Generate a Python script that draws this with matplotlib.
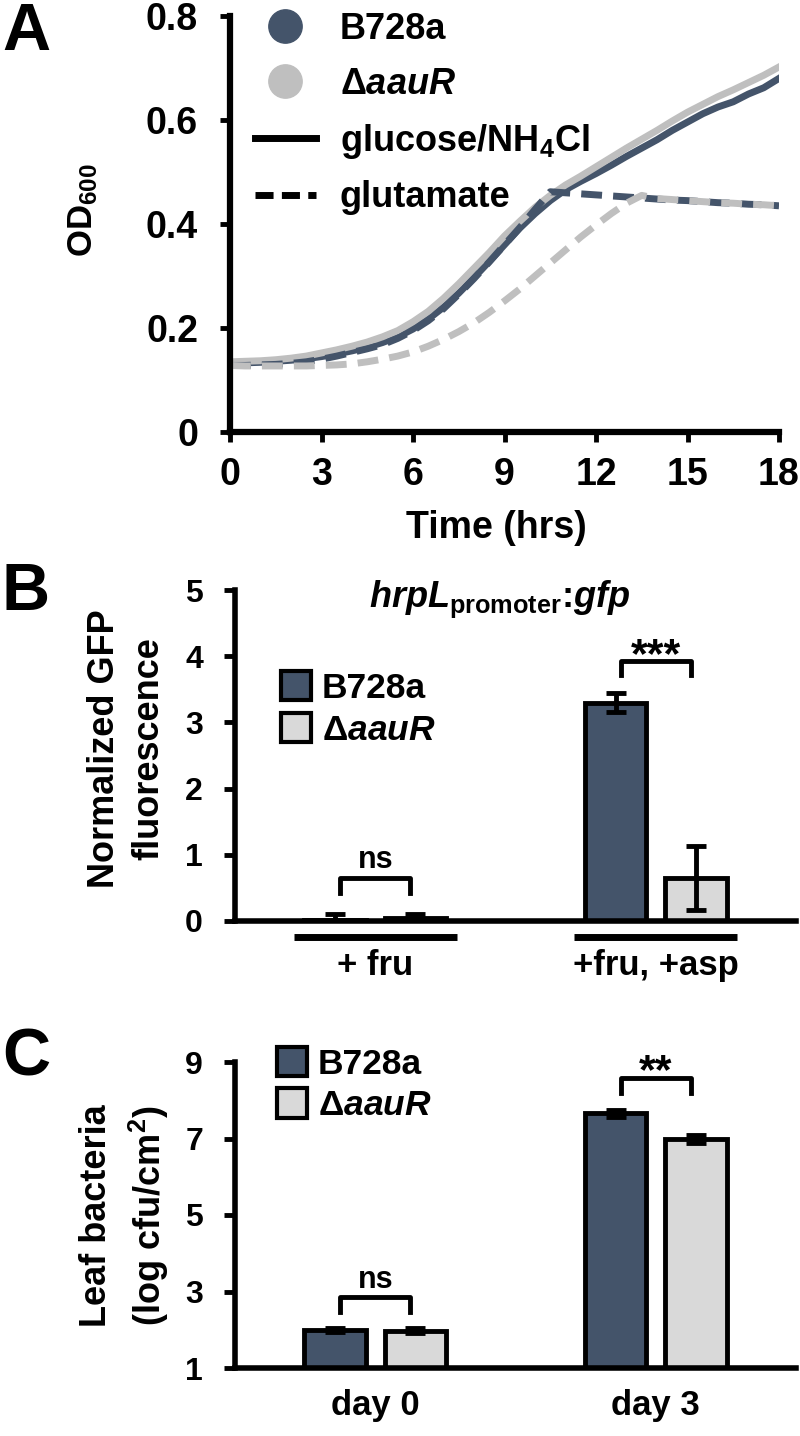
import matplotlib
matplotlib.use("Agg")
import matplotlib.pyplot as plt
import matplotlib.transforms as mtransforms
from matplotlib.lines import Line2D
from matplotlib.patches import Patch

plt.rcParams['font.family'] = ['Liberation Sans', 'DejaVu Sans']
plt.rcParams['font.weight'] = 'bold'
plt.rcParams['mathtext.fontset'] = 'custom'
plt.rcParams['mathtext.rm'] = 'Liberation Sans:bold'
plt.rcParams['mathtext.it'] = 'Liberation Sans:italic:bold'
plt.rcParams['mathtext.bf'] = 'Liberation Sans:bold'

DARK = '#44546A'
GRAY_LINE = '#BFBFBF'
GRAY_BAR = '#D9D9D9'

# ---- Panel A: growth curves (OD600), read every 30 min ----
time_hrs = [0, 0.5, 1, 1.5, 2, 2.5, 3, 3.5, 4, 4.5, 5, 5.5, 6, 6.5, 7, 7.5, 8, 8.5,
            9, 9.5, 10, 10.5, 11, 11.5, 12, 12.5, 13, 13.5, 14, 14.5, 15, 15.5,
            16, 16.5, 17, 17.5, 18]
od_glc_wt = [0.133, 0.133, 0.134, 0.136, 0.138, 0.141, 0.145, 0.150, 0.156, 0.163,
             0.172, 0.183, 0.198, 0.217, 0.240, 0.267, 0.297, 0.328, 0.360, 0.392,
             0.420, 0.445, 0.466, 0.482, 0.497, 0.513, 0.530, 0.546, 0.562, 0.580,
             0.596, 0.612, 0.625, 0.635, 0.650, 0.662, 0.680]
od_glc_mut = [0.135, 0.136, 0.137, 0.139, 0.142, 0.146, 0.152, 0.158, 0.165, 0.173,
              0.183, 0.195, 0.212, 0.232, 0.257, 0.285, 0.315, 0.345, 0.377, 0.405,
              0.432, 0.455, 0.475, 0.492, 0.510, 0.528, 0.546, 0.563, 0.580, 0.598,
              0.615, 0.630, 0.645, 0.658, 0.672, 0.686, 0.702]
od_glu_wt = [0.128, 0.128, 0.129, 0.130, 0.132, 0.135, 0.140, 0.146, 0.153, 0.160,
             0.168, 0.180, 0.195, 0.214, 0.237, 0.265, 0.295, 0.327, 0.360, 0.393,
             0.428, 0.462, 0.460, 0.458, 0.456, 0.454, 0.452, 0.450, 0.448, 0.446,
             0.445, 0.443, 0.441, 0.440, 0.438, 0.437, 0.435]
od_glu_mut = [0.128, 0.127, 0.127, 0.127, 0.127, 0.127, 0.128, 0.129, 0.131, 0.135,
              0.140, 0.146, 0.154, 0.165, 0.178, 0.193, 0.210, 0.230, 0.252, 0.275,
              0.300, 0.325, 0.350, 0.375, 0.398, 0.420, 0.440, 0.455, 0.449, 0.447,
              0.445, 0.443, 0.441, 0.440, 0.438, 0.437, 0.435]
a_xticks = [0, 3, 6, 9, 12, 15, 18]
a_yticks = [0, 0.2, 0.4, 0.6, 0.8]
a_yticklabels = ['0', '0.2', '0.4', '0.6', '0.8']

# ---- Panel B: hrpL promoter GFP ----
b_groups = ['+ fru', '+fru, +asp']
b_wt = [0.01, 3.30]
b_wt_err = [0.09, 0.14]
b_mut = [0.04, 0.65]
b_mut_err = [0.07, 0.48]
b_sig = ['ns', '***']

# ---- Panel C: leaf populations ----
c_groups = ['day 0', 'day 3']
c_wt = [2.00, 7.66]
c_wt_err = [0.05, 0.09]
c_mut = [1.98, 6.99]
c_mut_err = [0.07, 0.11]
c_sig = ['ns', '**']

strain_labels = ['B728a', 'Δ$\\mathit{aauR}$']

W, H = 800, 1436
fig = plt.figure(figsize=(W / 100, H / 100), dpi=100)


def px_axes(left, right, top, bottom):
    return fig.add_axes([left / W, 1 - bottom / H, (right - left) / W, (bottom - top) / H])


def style_axes(ax, lw, tick_size):
    for s in ['top', 'right']:
        ax.spines[s].set_visible(False)
    for s in ['left', 'bottom']:
        ax.spines[s].set_linewidth(lw)
    ax.tick_params(axis='both', labelsize=tick_size, width=3.5, length=7, direction='out')


# ---------------- A ----------------
axA = px_axes(230, 779, 16, 432)
dash = (0, (3, 1.6))
axA.plot(time_hrs, od_glc_wt, color=DARK, lw=5)
axA.plot(time_hrs, od_glc_mut, color=GRAY_LINE, lw=5)
axA.plot(time_hrs, od_glu_wt, color=DARK, lw=5, linestyle=dash)
axA.plot(time_hrs, od_glu_mut, color=GRAY_LINE, lw=5, linestyle=dash)
axA.set_xlim(0, 18)
axA.set_ylim(0, 0.8)
axA.set_xticks(a_xticks)
axA.set_yticks(a_yticks)
axA.set_yticklabels(a_yticklabels)
style_axes(axA, 4.5, 27)
axA.tick_params(axis='y', pad=16)
axA.tick_params(axis='x', pad=11)

handlesA = [
    Line2D([0], [0], marker='o', linestyle='None', markersize=24, color=DARK),
    Line2D([0], [0], marker='o', linestyle='None', markersize=24, color=GRAY_LINE),
    Line2D([0], [0], color='black', lw=5),
    Line2D([0], [0], color='black', lw=5, linestyle=(0, (2.6, 1.2))),
]
labelsA = strain_labels + ['glucose/NH$_\\mathrm{4}$Cl', 'glutamate']
axA.legend(handlesA, labelsA, loc='upper left', bbox_to_anchor=(0.045, 1.01),
           frameon=False, fontsize=26, handlelength=1.7, handletextpad=0.65,
           labelspacing=0.55, borderpad=0, borderaxespad=0)

fig.text(496 / W, 1 - 528 / H, 'Time (hrs)', ha='center', va='center', fontsize=27)
fig.text(83 / W, 1 - 210 / H, 'OD$_\\mathrm{600}$', rotation=90, ha='center',
         va='center', fontsize=25)


# ---------------- B and C (bar panels) ----------------
def bar_panel(ax, wt, wt_err, mut, mut_err, groups, sig, sig_y, ylim, yticks, leg_anchor):
    xs = list(range(len(groups)))
    off, bw = 0.143, 0.22
    x_wt = [x - off for x in xs]
    x_mut = [x + off for x in xs]
    ax.bar(x_wt, [v - ylim[0] for v in wt], width=bw, bottom=ylim[0], color=DARK,
           edgecolor='black', linewidth=3.5, zorder=2)
    ax.bar(x_mut, [v - ylim[0] for v in mut], width=bw, bottom=ylim[0], color=GRAY_BAR,
           edgecolor='black', linewidth=3.5, zorder=2)
    ax.errorbar(x_wt, wt, yerr=wt_err, fmt='none', ecolor='black', elinewidth=3.5,
                capsize=7, capthick=3.5, zorder=3)
    ax.errorbar(x_mut, mut, yerr=mut_err, fmt='none', ecolor='black', elinewidth=3.5,
                capsize=7, capthick=3.5, zorder=3)
    ax.set_xlim(-0.5, 1.5)
    ax.set_ylim(*ylim)
    ax.set_yticks(yticks)
    ax.set_xticks(xs)
    ax.set_xticklabels(groups)
    style_axes(ax, 4, 23)
    ax.tick_params(axis='x', length=0, labelsize=25)
    ax.tick_params(axis='y', pad=15, length=8)
    for x, s, (y_leg, y_top, y_txt) in zip(xs, sig, sig_y):
        ax.plot([x - 0.125, x - 0.125, x + 0.125, x + 0.125], [y_leg, y_top, y_top, y_leg],
                color='black', lw=3.5, solid_joinstyle='round', clip_on=False, zorder=4)
        size = 22 if s == 'ns' else 31
        ax.text(x, y_txt, s, ha='center', va='baseline', fontsize=size, clip_on=False)
    ax.legend([Patch(facecolor=DARK, edgecolor='black', lw=3),
               Patch(facecolor=GRAY_BAR, edgecolor='black', lw=3)], strain_labels,
              loc='upper left', frameon=False, fontsize=25.5, handlelength=0.85,
              handleheight=0.9, handletextpad=0.3, labelspacing=0.22, borderpad=0,
              borderaxespad=0, bbox_to_anchor=leg_anchor)


axB = px_axes(235, 796, 590, 921)
axC = px_axes(235, 796, 1062, 1368)

bar_panel(axB, b_wt, b_wt_err, b_mut, b_mut_err, b_groups, b_sig,
          [(0.42, 0.65, 0.80), (3.72, 3.92, 3.83)], (0, 5), [0, 1, 2, 3, 4, 5],
          (0.082, 0.755))
axB.tick_params(axis='x', pad=20)
for x in range(len(b_groups)):
    axB.plot([x - 0.29, x + 0.29], [-0.24, -0.24], color='black', lw=5, clip_on=False,
             solid_capstyle='butt')
title_tr = mtransforms.blended_transform_factory(axB.transAxes, axB.transData)
axB.text(0.472, 4.74, '$\\mathit{hrpL}_{\\mathrm{promoter}}$:$\\mathit{gfp}$',
         transform=title_tr, ha='center', va='baseline', fontsize=26)

bar_panel(axC, c_wt, c_wt_err, c_mut, c_mut_err, c_groups, c_sig,
          [(2.46, 2.86, 3.09), (8.20, 8.58, 8.45)], (1, 9), [1, 3, 5, 7, 9],
          (0.075, 1.05))
axC.tick_params(axis='x', pad=15)

fig.text(127 / W, 1 - 749 / H, 'Normalized GFP\nfluorescence', rotation=90,
         ha='center', va='center', fontsize=26, linespacing=1.35)
fig.text(125 / W, 1 - 1216 / H, 'Leaf bacteria\n(log cfu/cm$^\\mathrm{2}$)', rotation=90,
         ha='center', va='center', fontsize=26, linespacing=1.35)

for letter, base in [('A', 50), ('B', 610), ('C', 1076)]:
    fig.text(2 / W, 1 - base / H, letter, fontsize=48, va='baseline', ha='left')

fig.savefig('out.png', dpi=100)
